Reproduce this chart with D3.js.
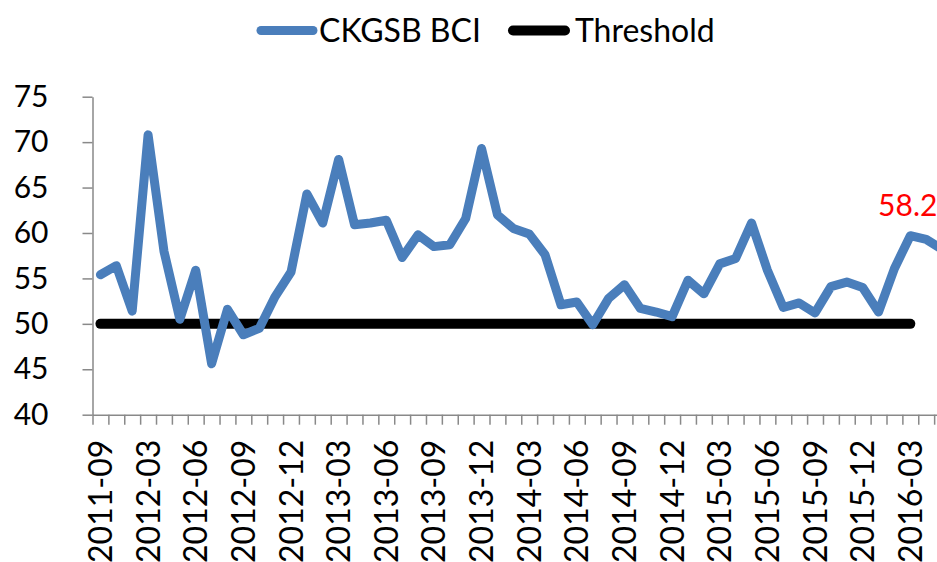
<!DOCTYPE html>
<html>
<head>
<meta charset="utf-8">
<script src="https://cdn.jsdelivr.net/npm/d3@7"></script>
<style>
  body { margin: 0; background: #fff; }
  svg { display: block; overflow: hidden; font-family: Lato, "Open Sans", sans-serif; }
  .axis path, .axis line { stroke: #898989; stroke-width: 1.5; }
</style>
</head>
<body>
<div id="chart"></div>
<script>
// monthly BCI readings (first three points are sparse: Sep, Dec, Jan-Feb)
var months = ["2011-09", "2011-12", "2012-02", "2012-03", "2012-04", "2012-05", "2012-06", "2012-07",
  "2012-08", "2012-09", "2012-10", "2012-11", "2012-12", "2013-01", "2013-02", "2013-03", "2013-04",
  "2013-05", "2013-06", "2013-07", "2013-08", "2013-09", "2013-10", "2013-11", "2013-12", "2014-01",
  "2014-02", "2014-03", "2014-04", "2014-05", "2014-06", "2014-07", "2014-08", "2014-09", "2014-10",
  "2014-11", "2014-12", "2015-01", "2015-02", "2015-03", "2015-04", "2015-05", "2015-06", "2015-07",
  "2015-08", "2015-09", "2015-10", "2015-11", "2015-12", "2016-01", "2016-02", "2016-03", "2016-04",
  "2016-05"];
var bci = [55.4, 56.4, 51.4, 70.8, 58.0, 50.5, 55.9, 45.6, 51.6, 48.8, 49.5, 53.0, 55.7, 64.3, 61.1,
  68.1, 60.9, 61.1, 61.4, 57.3, 59.8, 58.5, 58.7, 61.6, 69.3, 62.0, 60.5, 59.9, 57.6, 52.1, 52.4, 49.9,
  52.8, 54.3, 51.7, 51.3, 50.8, 54.8, 53.3, 56.6, 57.2, 61.1, 55.9, 51.8, 52.3, 51.2, 54.1, 54.6, 54.0,
  51.3, 56.1, 59.7, 59.3, 58.2];
// threshold runs up to 2016-03
var threshold = months.slice(0, 52).map(function () { return 50; });
var yTicks = [40, 45, 50, 55, 60, 65, 70, 75];
var xTickLabels = months.filter(function (d, i) { return i % 3 == 0; });
var lastLabel = "58.2";

var width = 937,
  height = 562;
var plotLeft = 92.5,
  plotTop = 96.7,
  plotBottom = 414.7,
  band = 15.88;

var svg = d3.select("#chart")
  .append("svg")
  .attr("width", width)
  .attr("height", height);

var x = d3.scaleBand()
  .domain(months)
  .range([plotLeft, plotLeft + band * months.length])
  .padding(0);

var xb = d3.scaleLinear()
  .domain([0, months.length])
  .range([plotLeft, plotLeft + band * months.length]);

var y = d3.scaleLinear()
  .domain([40, 75])
  .range([plotBottom, plotTop]);

// y axis
var gy = svg.append("g")
  .attr("class", "axis")
  .attr("transform", "translate(" + plotLeft + ",0)")
  .call(d3.axisLeft(y).tickValues(yTicks).tickSize(10).tickPadding(34).tickSizeOuter(0));
gy.selectAll("text")
  .attr("font-size", 30)
  .attr("font-family", "Lato")
  .attr("fill", "#000");

// x axis ticks at category boundaries
svg.append("g")
  .attr("class", "axis")
  .attr("transform", "translate(0," + plotBottom + ")")
  .call(d3.axisBottom(xb).tickValues(d3.range(0, months.length + 1)).tickSize(10).tickFormat("").tickSizeOuter(0));

// x labels at category centres
var gx = svg.append("g")
  .attr("transform", "translate(0," + plotBottom + ")")
  .call(d3.axisBottom(x).tickValues(xTickLabels).tickSize(0));
gx.select(".domain").remove();
gx.selectAll("text")
  .attr("font-size", 32)
  .attr("font-family", "Lato")
  .attr("fill", "#000")
  .attr("text-anchor", "end")
  .attr("transform", "rotate(-90)")
  .attr("x", -25)
  .attr("y", 0)
  .attr("dy", "0.36em");

var cx = function (d, i) { return x(months[i]) + x.bandwidth() / 2; };

var line = d3.line()
  .x(cx)
  .y(function (d) { return y(d); });

svg.append("path")
  .datum(threshold)
  .attr("d", line)
  .attr("fill", "none")
  .attr("stroke", "#000")
  .attr("stroke-width", 10)
  .attr("stroke-linecap", "round");

svg.append("path")
  .datum(bci)
  .attr("d", line)
  .attr("fill", "none")
  .attr("stroke", "#4a7ebb")
  .attr("stroke-width", 9)
  .attr("stroke-linejoin", "round")
  .attr("stroke-linecap", "round");

// red label near last point
var li = bci.length - 1;
svg.append("text")
  .attr("x", cx(null, li) - 64)
  .attr("y", y(bci[li]) - 33)
  .attr("font-size", 30)
  .attr("font-family", "Lato")
  .attr("fill", "#ff0000")
  .text(lastLabel);

// legend
var legend = [
  { name: "CKGSB BCI", color: "#4a7ebb", w: 9, x1: 261, x2: 313, tx: 319 },
  { name: "Threshold", color: "#000", w: 10, x1: 513, x2: 565, tx: 575 }
];
var lg = svg.selectAll(".lg")
  .data(legend)
  .enter().append("g");
lg.append("line")
  .attr("x1", function (d) { return d.x1; })
  .attr("x2", function (d) { return d.x2; })
  .attr("y1", 30.5)
  .attr("y2", 30.5)
  .attr("stroke", function (d) { return d.color; })
  .attr("stroke-width", function (d) { return d.w; })
  .attr("stroke-linecap", "round");
lg.append("text")
  .attr("x", function (d) { return d.tx; })
  .attr("y", 41.7)
  .attr("font-size", 32)
  .attr("font-family", "Lato")
  .attr("fill", "#000")
  .text(function (d) { return d.name; });
</script>
</body>
</html>
